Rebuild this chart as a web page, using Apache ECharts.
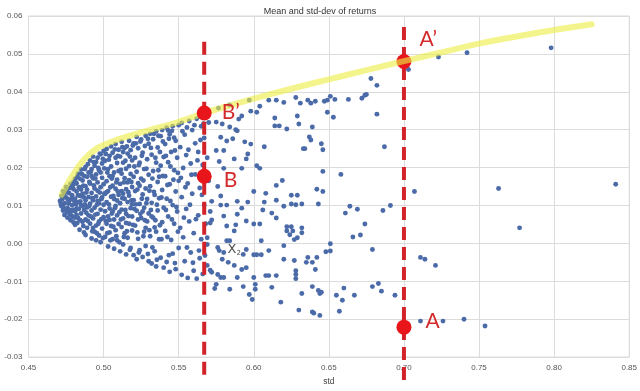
<!DOCTYPE html>
<html>
<head>
<meta charset="utf-8">
<script src="https://cdn.jsdelivr.net/npm/echarts@6/dist/echarts.min.js"></script>
<style>html,body{margin:0;padding:0;background:#fff;}#c{width:640px;height:391px;}</style>
</head>
<body>
<div id="c"></div>
<script>
// ---- data ----
const chartTitle = 'Mean and std-dev of returns';
const xName = 'std';
const xTicks = [0.45, 0.50, 0.55, 0.60, 0.65, 0.70, 0.75, 0.80, 0.85];
const yTicks = [-0.03, -0.02, -0.01, 0.00, 0.01, 0.02, 0.03, 0.04, 0.05, 0.06];

// dense cloud of portfolios [std, mean]
const denseCluster = [
[0.471,0.0112],[0.472,0.0098],[0.472,0.0125],[0.473,0.0087],[0.473,0.0138],[0.474,0.0106],[0.474,0.0075],[0.475,0.0121],[0.475,0.0149],[0.476,0.0093],[0.476,0.0068],[0.477,0.0133],[0.477,0.0111],[0.478,0.0157],[0.478,0.0082],[0.478,0.0061],[0.479,0.0127],[0.479,0.0101],[0.480,0.0143],[0.480,0.0163],[0.480,0.0055],[0.474,0.0131],[0.476,0.0117],[0.477,0.0089],[0.479,0.0072],
[0.481,0.0118],[0.481,0.0171],[0.481,0.0049],[0.482,0.0092],[0.482,0.0137],[0.482,0.0158],[0.483,0.0067],[0.483,0.0184],[0.483,0.0109],[0.484,0.0036],[0.484,0.0126],[0.484,0.0148],[0.485,0.0079],[0.485,0.0195],[0.485,0.0101],[0.486,0.0057],[0.486,0.0166],[0.486,0.0131],[0.487,0.0088],[0.487,0.0029],[0.487,0.0178],[0.488,0.0114],[0.488,0.0202],[0.488,0.0063],[0.489,0.0142],[0.489,0.0095],[0.489,0.0041],[0.490,0.0187],[0.490,0.0122],[0.490,0.0074],[0.482,0.0075],[0.484,0.0171],[0.486,0.0098],[0.488,0.0151],[0.485,0.0142],[0.483,0.0127],[0.487,0.0121],[0.489,0.0176],[0.481,0.0085],[0.488,0.0022],
[0.491,0.0105],[0.491,0.0219],[0.491,0.0052],[0.491,0.0158],[0.492,0.0013],[0.492,0.0133],[0.492,0.0196],[0.492,0.0087],[0.493,0.0229],[0.493,0.0066],[0.493,0.0114],[0.493,0.0172],[0.494,0.0031],[0.494,0.0145],[0.494,0.0205],[0.494,0.0094],[0.495,0.0182],[0.495,0.0047],[0.495,0.0124],[0.495,0.0008],[0.496,0.0226],[0.496,0.0161],[0.496,0.0078],[0.496,0.0139],[0.497,0.0021],[0.497,0.0193],[0.497,0.0106],[0.497,0.0058],[0.498,0.0235],[0.498,0.0148],[0.498,0.0089],[0.498,0.0003],[0.499,0.0173],[0.499,0.0121],[0.499,0.0039],[0.499,0.0211],[0.500,0.0069],[0.500,0.0156],[0.500,0.0244],[0.500,0.0102],[0.493,0.0041],[0.496,0.0112],[0.498,0.0187],[0.495,0.0215],[0.492,0.0178],
[0.501,0.0131],[0.501,0.0218],[0.501,0.0017],[0.501,0.0085],[0.502,0.0249],[0.502,0.0164],[0.502,0.0052],[0.502,0.0109],[0.503,-0.0008],[0.503,0.0196],[0.503,0.0138],[0.503,0.0071],[0.504,0.0231],[0.504,0.0029],[0.504,0.0092],[0.504,0.0177],[0.505,0.0256],[0.505,0.0123],[0.505,0.0046],[0.505,0.0203],[0.506,0.0011],[0.506,0.0152],[0.506,0.0084],[0.506,0.0239],[0.507,0.0187],[0.507,0.0063],[0.507,0.0117],[0.507,-0.0014],[0.508,0.0262],[0.508,0.0144],[0.508,0.0035],[0.508,0.0099],[0.509,0.0212],[0.509,0.0074],[0.509,0.0168],[0.509,0.0008],[0.510,0.0247],[0.510,0.0128],[0.510,0.0051],[0.510,0.0191],[0.502,0.0135],[0.504,0.0062],[0.506,0.0178],[0.508,0.0226],[0.509,0.0113],
[0.511,0.0106],[0.511,0.0229],[0.511,-0.0021],[0.511,0.0157],[0.512,0.0268],[0.512,0.0043],[0.512,0.0184],[0.512,0.0089],[0.513,0.0131],[0.513,-0.0003],[0.513,0.0213],[0.513,0.0066],[0.514,0.0252],[0.514,0.0118],[0.514,0.0027],[0.514,0.0172],[0.515,0.0197],[0.515,0.0078],[0.515,-0.0029],[0.515,0.0143],[0.516,0.0237],[0.516,0.0015],[0.516,0.0109],[0.516,0.0161],[0.517,0.0271],[0.517,0.0052],[0.517,0.0204],[0.517,0.0126],[0.518,-0.0012],[0.518,0.0183],[0.518,0.0093],[0.518,0.0246],[0.519,0.0034],[0.519,0.0149],[0.519,0.0219],[0.519,0.0071],[0.520,0.0264],[0.520,0.0114],[0.520,-0.0031],[0.520,0.0176],[0.513,0.0241],[0.515,0.0054],[0.517,0.0167],[0.519,0.0103],[0.512,0.0138],
[0.521,0.0138],[0.521,0.0047],[0.521,0.0226],[0.522,-0.0042],[0.522,0.0189],[0.522,0.0281],[0.522,0.0086],[0.523,0.0159],[0.523,0.0012],[0.523,0.0251],[0.524,0.0104],[0.524,0.0213],[0.524,-0.0018],[0.525,0.0067],[0.525,0.0274],[0.525,0.0171],[0.526,0.0129],[0.526,-0.0036],[0.526,0.0239],[0.527,0.0031],[0.527,0.0196],[0.527,0.0094],[0.528,0.0284],[0.528,0.0145],[0.528,-0.0007],[0.529,0.0222],[0.529,0.0058],[0.529,0.0117],[0.530,0.0263],[0.530,-0.0047],[0.530,0.0181],[0.530,0.0079],[0.523,0.0063],[0.526,0.0084],[0.528,0.0041],[0.524,0.0152],
[0.531,0.0151],[0.531,0.0019],[0.531,0.0289],[0.532,0.0107],[0.532,-0.0053],[0.532,0.0234],[0.533,0.0068],[0.533,0.0191],[0.533,0.0275],[0.534,-0.0021],[0.534,0.0128],[0.534,0.0042],[0.535,0.0296],[0.535,0.0213],[0.535,-0.0061],[0.536,0.0087],[0.536,0.0162],[0.536,0.0253],[0.537,0.0011],[0.537,0.0119],[0.538,0.0283],[0.538,-0.0038],[0.538,0.0205],[0.539,0.0056],[0.539,0.0141],[0.539,0.0299],[0.540,-0.0064],[0.540,0.0094],[0.540,0.0228],[0.535,0.0031],[0.537,0.0176],[0.532,0.0071],
[0.541,0.0177],[0.541,0.0033],[0.541,0.0262],[0.542,-0.0049],[0.542,0.0118],[0.542,0.0305],[0.543,0.0071],[0.543,0.0214],[0.544,-0.0075],[0.544,0.0156],[0.544,0.0288],[0.545,0.0009],[0.545,0.0241],[0.546,0.0101],[0.546,-0.0027],[0.546,0.0309],[0.547,0.0193],[0.547,0.0052],[0.548,0.0137],[0.548,-0.0068],[0.548,0.0271],[0.549,0.0084],[0.549,0.0226],[0.550,-0.0012],[0.550,0.0312],[0.550,0.0165],[0.543,0.0298],[0.547,0.0279],
[0.551,0.0041],[0.551,0.0254],[0.552,-0.0083],[0.552,0.0122],[0.552,0.0318],[0.553,0.0199],[0.553,0.0016],[0.554,0.0287],[0.554,-0.0047],[0.555,0.0091],[0.555,0.0233],[0.556,-0.0091],[0.556,0.0158],[0.557,0.0323],[0.557,0.0058],[0.558,0.0211],[0.558,-0.0024],[0.559,0.0299],[0.559,0.0131],[0.560,-0.0072],[0.560,0.0027],[0.561,0.0264],[0.561,0.0182],[0.562,0.0329],[0.562,-0.0093],[0.563,0.0074],[0.563,0.0241],[0.564,-0.0039],[0.564,0.0146],[0.565,0.0309],[0.565,0.0011],[0.566,0.0207],[0.566,-0.0081],[0.567,0.0101],[0.567,0.0278],[0.568,0.0052],[0.569,0.0226],[0.569,-0.0058],[0.570,0.0319],[0.570,0.0165],[0.571,0.0084]
];

// more portfolios filling the dense cloud [std, mean]
const denseFill = [
[0.4715,0.0104],[0.4725,0.0117],[0.473,0.0096],[0.4735,0.0124],[0.4745,0.0091],[0.4755,0.0137],[0.4755,0.0083],[0.4765,0.0105],[0.4775,0.0146],[0.4775,0.0076],[0.4785,0.0118],[0.4795,0.0153],[0.4795,0.0089],[0.4805,0.0112],[0.4805,0.0068],
[0.4815,0.0161],[0.4815,0.0103],[0.4825,0.0054],[0.4825,0.0176],[0.4835,0.0147],[0.4835,0.0091],[0.4845,0.0061],[0.4845,0.0111],[0.4855,0.0183],[0.4855,0.0124],[0.4865,0.0046],[0.4865,0.0152],[0.4875,0.0103],[0.4875,0.0196],[0.4885,0.0081],[0.4885,0.0134],[0.4895,0.0059],[0.4895,0.0209],[0.4905,0.0099],[0.4905,0.0162],
[0.4915,0.0071],[0.4915,0.0189],[0.4925,0.0119],[0.4925,0.0032],[0.4935,0.0153],[0.4935,0.0214],[0.4945,0.0076],[0.4945,0.0171],[0.4955,0.0102],[0.4955,0.0027],[0.4965,0.0199],[0.4965,0.0052],[0.4975,0.0134],[0.4975,0.0237],[0.4985,0.0064],[0.4985,0.0117],[0.4995,0.0223],[0.4995,0.0014],[0.5005,0.0131],[0.5005,0.0198],
[0.5015,0.0059],[0.5015,0.0236],[0.5025,0.0187],[0.5025,0.0027],[0.5035,0.0103],[0.5035,0.0221],[0.5045,0.0148],[0.5045,0.0008],[0.5055,0.0079],[0.5055,0.0171],[0.5065,0.0125],[0.5065,0.0044],[0.5075,0.0248],[0.5075,0.0093],[0.5085,0.0161],[0.5085,0.0019],[0.5095,0.0137],[0.5095,0.0231],[0.5105,0.0082],[0.5105,0.0003],
[0.5115,0.0194],[0.5115,0.0063],[0.5125,0.0119],[0.5125,0.0254],[0.5135,0.0017],[0.5135,0.0161],[0.5145,0.0088],[0.5145,0.0218],[0.5155,0.0032],[0.5155,0.0256],[0.5165,0.0135],[0.5165,0.0072],[0.5175,0.0229],[0.5175,-0.0017],[0.5185,0.0113],[0.5185,0.0162],[0.5195,0.0049],[0.5195,0.0258],[0.5205,0.0091],[0.5205,0.0203],
[0.5215,0.0103],[0.5215,0.0264],[0.5225,0.0029],[0.5225,0.0142],[0.5235,0.0207],[0.5235,-0.0024],[0.5245,0.0078],[0.5245,0.0269],[0.5255,0.0118],[0.5255,0.0231],[0.5265,0.0019],[0.5265,0.0166],[0.5275,0.0257],[0.5275,0.0061],[0.5285,0.0197],[0.5285,0.0106],[0.5295,-0.0028],[0.5295,0.0276],[0.5305,0.0139],[0.5305,0.0035],
[0.5315,0.0252],[0.5315,0.0088],[0.5325,0.0171],[0.5325,-0.0011],[0.5335,0.0136],[0.5335,0.0289],[0.5345,0.0061],[0.5345,0.0226],[0.5355,0.0102],[0.5355,-0.0043],[0.5365,0.0193],[0.5365,0.0284],[0.5375,0.0048],[0.5375,0.0241],[0.5385,0.0121],[0.5385,0.0011],[0.5395,0.0178],[0.5395,0.0269],
[0.5415,0.0088],[0.5415,0.0231],[0.5425,0.0154],[0.5425,0.0017],[0.5435,0.0276],[0.5435,-0.0031],[0.5445,0.0112],[0.5445,0.0203],[0.5455,0.0063],[0.5455,0.0297],[0.5465,0.0168],[0.5475,0.0245],[0.5475,-0.0052],[0.5485,0.0096],[0.5495,0.0186],[0.5495,0.0031],
[0.5515,0.0173],[0.5525,0.0296],[0.5535,0.0068],[0.5545,0.0148],[0.5555,0.0306],[0.5555,-0.0011],[0.5565,0.0247],[0.5575,0.0102],[0.5585,0.0181],[0.5595,-0.0051],[0.5605,0.0312],[0.5615,0.0064],[0.5625,0.0219],[0.5635,-0.0019],[0.5645,0.0273],[0.5655,0.0128],[0.5665,0.0316],[0.5675,-0.0032]
];

// sparser portfolios to the right [std, mean]
const outerPoints = [
[0.5765,0.0357],[0.5838,0.0365],[0.597,0.0378],
[0.610,0.0378],[0.615,0.0378],[0.620,0.0372],[0.628,0.0385],[0.631,0.0370],[0.636,0.0378],[0.638,0.0370],
[0.604,0.0362],[0.602,0.0346],[0.598,0.0349],[0.592,0.0336],[0.590,0.0328],[0.589,0.0297],[0.588,0.0300],[0.584,0.0307],[0.579,0.0315],[0.575,0.0320],
[0.614,0.0331],[0.614,0.0310],[0.617,0.0310],[0.622,0.0302],[0.629,0.0336],[0.630,0.0315],[0.637,0.0281],[0.638,0.0273],[0.634,0.0250],[0.633,0.0250],
[0.607,0.0255],[0.594,0.0268],[0.598,0.0262],[0.586,0.0276],[0.582,0.0270],[0.578,0.0280],[0.580,0.0245],[0.575,0.0245],[0.587,0.0223],[0.595,0.0223],[0.596,0.0236],[0.577,0.0216],[0.580,0.0198],[0.592,0.0198],[0.602,0.0205],[0.604,0.0198],[0.619,0.0166],[0.615,0.0153],[0.608,0.0132],[0.600,0.0137],[0.625,0.0127],[0.629,0.0127],[0.576,0.0150],[0.578,0.0125],
[0.572,0.0111],[0.578,0.0101],[0.582,0.0101],[0.589,0.0111],[0.596,0.0109],[0.607,0.0109],[0.615,0.0114],[0.620,0.0098],[0.625,0.0104],[0.628,0.0102],[0.632,0.0104],[0.592,0.0093],[0.580,0.0072],[0.589,0.0077],[0.606,0.0088],[0.612,0.0080],[0.615,0.0067],[0.572,0.0062],[0.571,0.0054],[0.595,0.0059],[0.582,0.0046],[0.588,0.0049],[0.600,0.0051],[0.604,0.0051],[0.587,0.0033],[0.622,0.0044],[0.625,0.0044],[0.622,0.0033],[0.626,0.0033],[0.624,0.0023],[0.632,0.0041],[0.632,0.0028],[0.569,0.0015],[0.605,0.0007],[0.620,-0.0006],[0.627,0.0010],[0.629,0.0015],[0.582,0.0007],[0.584,0.0007],[0.569,-0.0003],[0.576,-0.0011],[0.577,-0.0019],[0.595,-0.0016],[0.580,-0.0024],[0.593,-0.0029],[0.600,-0.0030],[0.602,-0.0030],[0.605,-0.0030],[0.610,-0.0019],[0.579,-0.0042],[0.583,-0.0050],[0.587,-0.0058],[0.592,-0.0069],[0.595,-0.0064],[0.620,-0.0042],[0.627,-0.0045],[0.636,-0.0037],[0.635,-0.0050],[0.639,-0.0050],[0.571,-0.0071],[0.572,-0.0076],[0.576,-0.0082],[0.578,-0.0090],[0.580,-0.0090],[0.589,-0.0090],[0.600,-0.0090],[0.608,-0.0085],[0.610,-0.0085],[0.615,-0.0085],[0.628,-0.0072],[0.628,-0.0082],[0.628,-0.0093],[0.639,-0.0114],[0.575,-0.0108],[0.574,-0.0119],[0.584,-0.0121],[0.593,-0.0114],[0.601,-0.0108],[0.601,-0.0121],[0.612,-0.0116],[0.597,-0.0135],[0.599,-0.0148],[0.618,-0.0155],[0.632,-0.0132],[0.630,-0.0176],[0.639,-0.0181],
[0.678,0.0435],[0.682,0.0417],[0.703,0.0459],[0.641,0.0375],[0.647,0.0375],[0.649,0.0378],[0.651,0.0388],[0.654,0.0380],[0.663,0.0380],[0.672,0.0383],[0.674,0.0391],[0.675,0.0393],[0.649,0.0346],[0.653,0.0333],[0.682,0.0341],[0.639,0.0307],[0.645,0.0263],[0.646,0.0247],[0.687,0.0255],[0.646,0.0190],[0.658,0.0182],[0.642,0.0143],[0.646,0.0137],[0.643,0.0104],[0.664,0.0098],[0.661,0.0080],[0.669,0.0090],[0.686,0.0087],[0.691,0.0100],[0.674,0.0051],[0.666,0.0017],[0.671,0.0022],[0.651,-0.0001],[0.648,-0.0022],[0.651,-0.0020],[0.679,-0.0016],[0.642,-0.0037],[0.641,-0.0069],[0.643,-0.0124],[0.645,-0.0129],[0.644,-0.0132],[0.655,-0.0137],[0.660,-0.0118],[0.659,-0.0150],[0.667,-0.0137],[0.679,-0.0114],[0.683,-0.0106],[0.685,-0.0126],[0.694,-0.0137],[0.640,-0.0184],[0.644,-0.0190],[0.657,-0.0179],[0.707,0.0137],
[0.711,-0.0037],[0.714,-0.0042],[0.721,-0.0058],[0.777,0.0041],[0.711,-0.0205],[0.726,-0.0205],[0.740,-0.0200],[0.754,-0.0218],[0.798,0.0516],[0.742,0.0503],[0.723,0.0492],[0.841,0.0156],[0.763,0.0145]
];

// efficient frontier (yellow curve)
const frontierStd  = [0.472, 0.4756, 0.480, 0.4842, 0.490, 0.4975, 0.510, 0.520, 0.5307, 0.550, 0.567, 0.585, 0.600, 0.625, 0.650, 0.675, 0.700, 0.725, 0.750, 0.775, 0.800, 0.825];
const frontierMean = [0.0128, 0.0155, 0.0183, 0.0208, 0.0233, 0.0255, 0.0275, 0.0287, 0.0299, 0.0321, 0.0344, 0.0365, 0.0382, 0.0408, 0.0433, 0.0457, 0.0481, 0.0504, 0.0527, 0.0546, 0.0563, 0.0578];

// vertical guide lines
const guideStd    = [0.567, 0.700];
const guideTop    = [0.0532, 0.0571];
const guideBottom = [-0.0364, -0.0379];

// highlighted portfolios
const markerNames = ['B\u2019', 'B', 'A'];
const markerStd   = [0.567, 0.567, 0.700];
const markerMean  = [0.0344, 0.0177, -0.0221];
const markerLabelOffsets = [[5, -1], [7, 4], [9, -6]];
const topMarkerName = 'A\u2019';
const topMarkerStd = 0.700;
const topMarkerMean = 0.0480;

const x2Label = { std: 0.587, mean: -0.0017 };

// ---- chart ----
const chart = echarts.init(document.getElementById('c'), null, { renderer: 'canvas' });
const red = '#e8161a';
const dashRed = '#d2232a';
const labelFont = 'Lato, "Open Sans", sans-serif';
const tickFont = '"Liberation Sans", Arial, sans-serif';

const guideSeries = guideStd.map((s, i) => ({
  type: 'line',
  data: [[s, guideTop[i]], [s, guideBottom[i]]],
  clip: false,
  symbol: 'none',
  silent: true,
  z: 3,
  lineStyle: { color: dashRed, width: 4, type: [13, 7] }
}));

const option = {
  animation: false,
  backgroundColor: '#ffffff',
  title: {
    text: chartTitle, left: 'center', top: 2,
    textStyle: { fontSize: 9, fontWeight: 'normal', color: '#333', fontFamily: tickFont }
  },
  grid: { left: 28.5, right: 9, top: 16, bottom: 29, show: true, borderColor: '#d8d8d8', borderWidth: 1, backgroundColor: '#fff' },
  xAxis: {
    type: 'value', min: xTicks[0], max: xTicks[xTicks.length - 1], interval: 0.05,
    name: xName, nameLocation: 'middle', nameGap: 18,
    nameTextStyle: { fontSize: 8.5, color: '#444', fontFamily: tickFont },
    axisLine: { show: false }, axisTick: { show: false },
    axisLabel: { fontSize: 8, color: '#555', margin: 7, fontFamily: tickFont, formatter: v => v.toFixed(2) },
    splitLine: { show: true, lineStyle: { color: '#dcdcdc', width: 1 } }
  },
  yAxis: {
    type: 'value', min: yTicks[0], max: yTicks[yTicks.length - 1], interval: 0.01,
    axisLine: { show: false }, axisTick: { show: false },
    axisLabel: { fontSize: 8, color: '#555', margin: 6, fontFamily: tickFont, formatter: v => (Math.abs(v) < 1e-9 ? 0 : v).toFixed(2) },
    splitLine: { show: true, lineStyle: { color: '#dcdcdc', width: 1 } }
  },
  series: [
    {
      type: 'scatter', data: denseCluster.concat(denseFill, outerPoints), symbolSize: 4.9, z: 1,
      itemStyle: { color: '#4a6aa8', opacity: 1 }
    },
    ...guideSeries,
    {
      type: 'scatter', z: 4, symbolSize: 15,
      data: [{ value: [topMarkerStd, topMarkerMean], name: topMarkerName }],
      itemStyle: { color: red, opacity: 1 },
      label: { show: true, position: 'right', offset: [3, -22], formatter: '{b}', fontSize: 21, color: '#d42a2c', fontFamily: labelFont }
    },
    {
      type: 'line', z: 5, smooth: 0.35, symbol: 'none', silent: true,
      data: frontierStd.map((s, i) => [s, frontierMean[i]]),
      lineStyle: { color: 'rgba(238,238,70,0.62)', width: 6, cap: 'round' }
    },
    {
      type: 'scatter', z: 6, symbolSize: 15,
      data: markerNames.map((n, i) => ({
        name: n, value: [markerStd[i], markerMean[i]],
        label: { offset: markerLabelOffsets[i] }
      })),
      itemStyle: { color: red, opacity: 1 },
      label: { show: true, position: 'right', formatter: '{b}', fontSize: 21, color: '#d42a2c', fontFamily: labelFont }
    },
    {
      type: 'scatter', z: 7, symbolSize: 0, silent: true,
      data: [[x2Label.std, x2Label.mean]],
      label: {
        show: true, position: 'inside', formatter: '{a|X}{b|2}',
        rich: {
          a: { fontSize: 13, color: '#222', fontFamily: '"DejaVu Sans", sans-serif' },
          b: { fontSize: 7, color: '#222', padding: [7, 0, 0, 0], fontFamily: '"DejaVu Sans", sans-serif' }
        }
      }
    }
  ]
};
chart.setOption(option);
</script>
</body>
</html>
